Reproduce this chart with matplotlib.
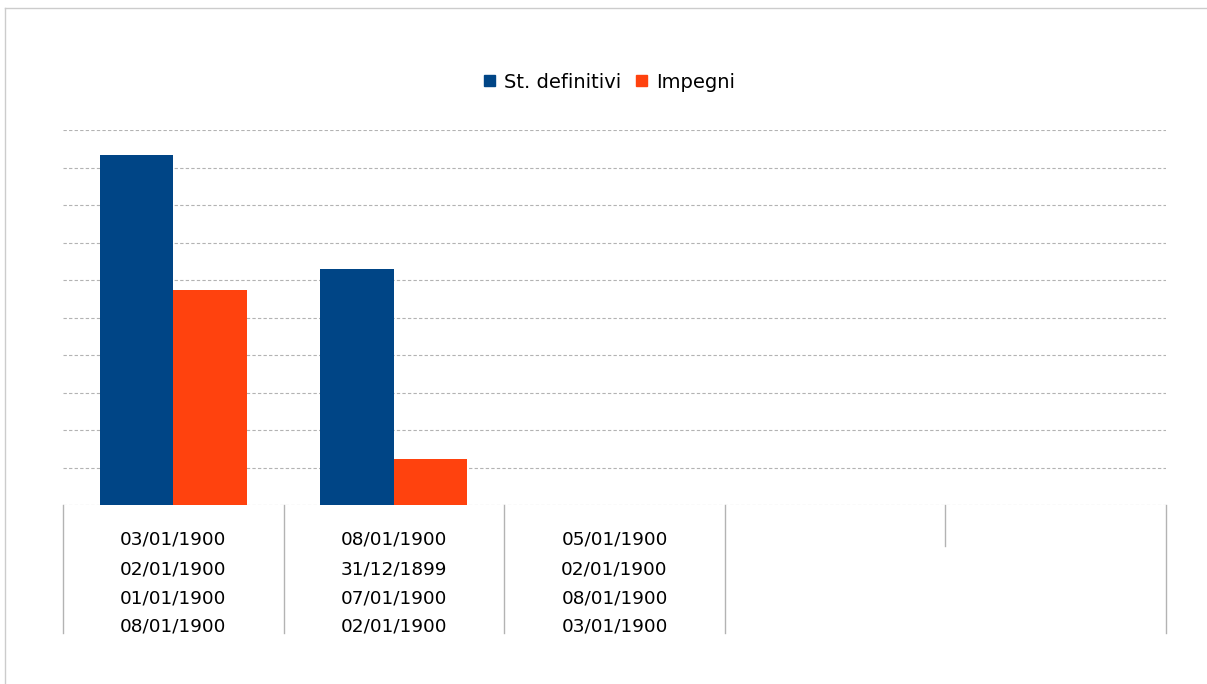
import matplotlib
matplotlib.use('Agg')
import matplotlib.pyplot as plt
from matplotlib.patches import Patch
from matplotlib.transforms import blended_transform_factory
import numpy as np

plt.rcParams['font.family'] = ['DejaVu Sans']

# data
series_names = ['St. definitivi', 'Impegni']
st_definitivi = [9.33, 6.29, 0, 0, 0]
impegni = [5.73, 1.23, 0, 0, 0]
cat_labels = [
    ['03/01/1900', '02/01/1900', '01/01/1900', '08/01/1900'],
    ['08/01/1900', '31/12/1899', '07/01/1900', '02/01/1900'],
    ['05/01/1900', '02/01/1900', '08/01/1900', '03/01/1900'],
    [],
    [],
]

blue = '#004586'
orange = '#ff420e'
grid_col = '#b3b3b3'

fig = plt.figure(figsize=(12.07, 6.84), dpi=100)
ax = fig.add_axes([63 / 1207, 1 - 505 / 684, (1166 - 63) / 1207, (505 - 130) / 684])

x = np.arange(len(st_definitivi))
w = 1 / 3
ax.bar(x - w, st_definitivi, width=w, align='edge', color=blue, zorder=3)
ax.bar(x, impegni, width=w, align='edge', color=orange, zorder=3)

ax.set_xlim(-0.5, len(x) - 0.5)
ax.set_ylim(0, 10)
ax.set_yticks(np.arange(0, 11, 1))
ax.grid(axis='y', color=grid_col, linestyle=(0, (3, 2)), linewidth=0.8, zorder=0)
ax.tick_params(left=False, bottom=False, labelleft=False, labelbottom=False)
for s in ax.spines.values():
    s.set_visible(False)

# category separators below the axis
trans = blended_transform_factory(ax.transData, ax.transAxes)
for i in range(len(x) + 1):
    bottom = -0.109 if i == 4 else -0.341
    ax.plot([i - 0.5, i - 0.5], [0, bottom], color=grid_col, linewidth=1,
            transform=trans, clip_on=False)

# stacked category labels
offsets = [25.2, 46.1, 67.0, 87.8]
for i, labs in enumerate(cat_labels):
    for j, lab in enumerate(labs):
        ax.annotate(lab, xy=(i, 0), xycoords=trans, xytext=(0, -offsets[j]),
                    textcoords='offset points', ha='center', va='center',
                    fontsize=13.3, color='#000000')

handles = [Patch(color=blue), Patch(color=orange)]
fig.legend(handles, series_names, loc='center', bbox_to_anchor=(0.505, 1 - 82 / 684),
           ncol=2, frameon=False, fontsize=14, handlelength=0.55, handleheight=0.55,
           handletextpad=0.45, columnspacing=0.8)

# outer frame (only top and left visible)
fig.add_artist(plt.Line2D([4.5 / 1207, 4.5 / 1207], [0, 1 - 7.5 / 684], color='#cccccc', linewidth=1))
fig.add_artist(plt.Line2D([4.5 / 1207, 1], [1 - 7.5 / 684, 1 - 7.5 / 684], color='#cccccc', linewidth=1))

fig.savefig('out.png', dpi=100)
